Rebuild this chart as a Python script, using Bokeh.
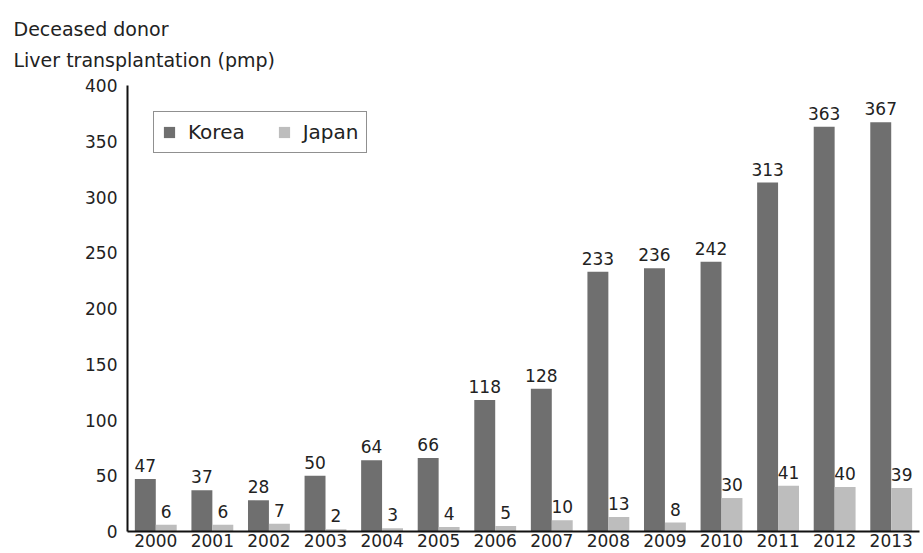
from bokeh.plotting import figure
from bokeh.models import ColumnDataSource, Range1d, FixedTicker, Legend, LegendItem, LabelSet
from bokeh.core.properties import value
from bokeh.embed import file_html
from bokeh.resources import INLINE

years = ["2000", "2001", "2002", "2003", "2004", "2005", "2006",
         "2007", "2008", "2009", "2010", "2011", "2012", "2013"]
korea = [47, 37, 28, 50, 64, 66, 118, 128, 233, 236, 242, 313, 363, 367]
japan = [6, 6, 7, 2, 3, 4, 5, 10, 13, 8, 30, 41, 40, 39]
y_ticks = [0, 50, 100, 150, 200, 250, 300, 350, 400]
title_lines = ["Deceased donor", "Liver transplantation  (pmp)"]

FONT = "DejaVu Sans"
TXT = "#222222"
K_COL = "#6f6f6f"
J_COL = "#bdbdbd"

idx = list(range(len(years)))
bw = 0.37
src = ColumnDataSource(dict(
    xk=[i - bw / 2 for i in idx],
    xj=[i + bw / 2 for i in idx],
    korea=korea,
    japan=japan,
    klab=[str(v) for v in korea],
    jlab=[str(v) for v in japan],
))

p = figure(width=923, height=553, output_backend="svg", toolbar_location=None,
           x_range=Range1d(-0.5, 13.5), y_range=Range1d(0, 400),
           min_border_left=127, min_border_right=4, min_border_bottom=22,
           min_border_top=85)

p.title.text = "\n".join(title_lines)
p.title.align = "left"
p.title.offset = -114
p.title.standoff = 28
p.title.text_line_height = 1.45
p.title.text_font = FONT
p.title.text_font_size = "19px"
p.title.text_font_style = "normal"
p.title.text_color = TXT

rk = p.vbar(x="xk", top="korea", width=bw, source=src, fill_color=K_COL, line_color=None)
rj = p.vbar(x="xj", top="japan", width=bw, source=src, fill_color=J_COL, line_color=None)

lk = LabelSet(x="xk", y="korea", text="klab", source=src, text_align="center",
              text_baseline="bottom", y_offset=7, text_font=value(FONT),
              text_font_size=value("17px"), text_color=TXT)
lj = LabelSet(x="xj", y="japan", text="jlab", source=src, text_align="center",
              text_baseline="bottom", y_offset=7, text_font=value(FONT),
              text_font_size=value("17px"), text_color=TXT)
p.add_layout(lk)
p.add_layout(lj)

p.xgrid.visible = False
p.ygrid.visible = False
p.outline_line_color = None

p.xaxis.ticker = FixedTicker(ticks=idx)
p.xaxis.major_label_overrides = {i: y for i, y in zip(idx, years)}
p.yaxis.ticker = FixedTicker(ticks=y_ticks)
for ax in (p.xaxis[0], p.yaxis[0]):
    ax.axis_line_color = "#111111"
    ax.axis_line_width = 2
    ax.major_tick_line_color = None
    ax.minor_tick_line_color = None
    ax.major_tick_out = 0
    ax.major_tick_in = 0
    ax.major_label_text_font = FONT
    ax.major_label_text_font_size = "17px"
    ax.major_label_text_color = TXT
p.xaxis.major_label_standoff = 2
p.yaxis.major_label_standoff = 10

legend = Legend(items=[LegendItem(label="Korea", renderers=[rk]),
                       LegendItem(label="Japan", renderers=[rj])],
                orientation="horizontal", location="top_left")
legend.margin = 26
legend.padding = 8
legend.spacing = 32
legend.label_standoff = 12
legend.glyph_width = 14
legend.glyph_height = 14
legend.label_text_font = FONT
legend.label_text_font_size = "20px"
legend.label_text_color = TXT
legend.border_line_color = "#222222"
legend.border_line_width = 1
legend.background_fill_alpha = 1
p.add_layout(legend)

open("out.html", "w").write(file_html(p, INLINE))
